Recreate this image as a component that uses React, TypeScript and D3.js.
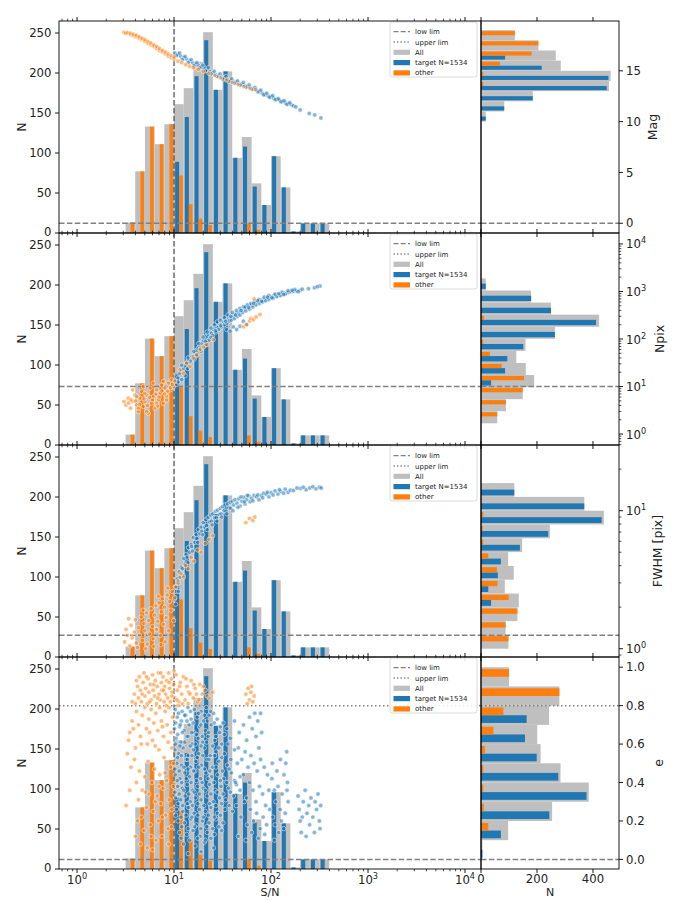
import React from 'react';
import * as d3 from 'd3';

// S/N histogram (0.1 dex bins, 10^0.5 .. 10^2.6)
const snEdges = d3.range(22).map((i) => 10 ** (0.5 + 0.1 * i));
const snTarget = [0, 0, 0, 0, 0, 89, 145, 196, 241, 179, 202, 94, 108, 58, 35, 96, 57, 2, 12, 12, 12];
const snOther = [13, 77, 133, 111, 136, 72, 36, 18, 10, 0, 0, 0, 12, 4, 0, 0, 0, 0, 0, 0, 0];

// side histograms
const magEdges = d3.range(10, 20);
const magTarget = [17, 83, 185, 449, 455, 217, 86, 0, 0];
const magOther = [0, 0, 0, 8, 8, 68, 181, 205, 121];

const npixEdges = d3.range(13).map((i) => 10 ** (0.226 + 0.254 * i));
const npixTarget = [0, 0, 0, 36, 86, 94, 151, 264, 411, 250, 179, 17];
const npixOther = [58, 89, 149, 154, 74, 32, 8, 0, 11, 0, 0, 0];

const fwhmEdges = d3.range(13).map((i) => 10 ** (0.1 * i));
const fwhmTarget = [0, 0, 0, 36, 26, 60, 71, 139, 240, 431, 369, 119];
const fwhmOther = [98, 88, 130, 99, 59, 57, 26, 8, 6, 8, 0, 0];

const eEdges = d3.range(11).map((i) => i / 10);
const eTarget = [5, 71, 244, 377, 276, 199, 157, 163, 0, 0];
const eOther = [0, 26, 10, 8, 8, 14, 44, 80, 280, 100];

// scatter points [S/N, value]
const magTargetPts = [[10.2,16.75],[11.0,16.6],[11.7,16.45],[12.6,16.3],[13.5,16.15],[14.5,15.95],[15.5,15.8],[16.6,15.65],[17.8,15.55],[19.1,15.4],[20.4,15.25],[21.9,15.05],[23.4,14.93],[25.1,14.8],[26.9,14.65],[28.8,14.5],[30.9,14.4],[33.1,14.3],[35.5,14.15],[38.0,14.03],[40.7,13.95],[43.7,13.85],[46.8,13.75],[50.1,13.65],[53.7,13.55],[57.5,13.45],[61.7,13.35],[66.1,13.2],[70.8,13.1],[75.9,12.95],[81.3,12.8],[87.1,12.65],[93.3,12.55],[100,12.45],[107,12.3],[115,12.2],[123,12.08],[132,11.95],[141,11.85],[151,11.75],[162,11.65],[200,11.15],[248,10.8],[282,10.66],[327,10.36],
  [10.6,16.5],[11.4,16.75],[12.2,16.1],[13.0,16.4],[14.0,15.8],[15.0,16.1],[16.0,15.5],[17.2,15.8],[18.5,15.3],[19.8,15.55],[21.2,15.0],[22.6,15.3],[24.2,14.7],[26.0,14.95],[27.8,14.45],[29.8,14.7],[32.0,14.2],[34.3,14.45],[36.8,13.95],[39.3,14.2],[42.2,13.8],[45.2,14.0],[48.4,13.6],[51.8,13.85],[55.5,13.4],[59.5,13.6],[63.8,13.2],[68.4,13.35],[73.3,12.95],[78.5,13.1],[84.1,12.65],[90.1,12.8],[96.5,12.4],[104,12.55],[111,12.15],[119,12.25],[127,11.95],[136,12.05],[146,11.7],[156,11.85],[170,11.55],[180,11.45]];
const magOtherPts = [[3.05,18.8],[3.16,18.7],[3.31,18.75],[3.55,18.55],[3.55,18.7],[3.80,18.45],[3.80,18.6],[4.07,18.35],[4.07,18.5],[4.37,18.2],[4.37,18.35],[4.68,18.05],[4.68,18.2],[5.01,17.9],[5.01,18.05],[5.37,17.7],[5.37,17.9],[5.75,17.55],[5.75,17.75],[6.17,17.4],[6.17,17.55],[6.61,17.2],[6.61,17.4],[7.08,17.0],[7.08,17.2],[7.59,16.85],[7.59,17.0],[8.13,16.65],[8.13,16.85],[8.71,16.45],[8.71,16.65],[9.33,16.3],[9.33,16.5],[10,16.15],[10,16.35],[11,15.95],[12,15.8],[13.2,15.6],[14.5,15.45],[15.8,15.3],[17.8,15.15],[20,14.95],[22.9,14.75],[26.3,14.55],[30.2,14.3],[34.7,14.1],[39.8,13.85],[45.7,13.65],[52.5,13.45],[60.3,13.3],[69.2,13.15]];

const npixTargetPts = [[10.2,13.8],[10.6,16],[11.0,15],[11.5,19.1],[12.0,22],[12.5,24],[13.0,27],[13.5,31.1],[14.0,36],[14.6,33],[15.2,42],[15.8,43.1],[16.5,52],[17.1,58],[17.8,64],[18.5,70.2],[19.3,80],[20.1,92],[20.9,100],[21.7,114],[22.6,125],[23.5,140],[24.4,132],[25.4,158],[26.5,170],[27.5,180],[28.6,176],[29.8,201],[31.0,215],[32.3,232],[33.6,225],[34.9,249],[36.3,270],[37.8,285],[39.3,278],[40.9,312],[42.6,330],[44.2,350],[46,345],[47.9,385],[50,410],[52,420],[54,440],[56.1,453],[58,480],[61,500],[63,520],[65.8,533],[69,570],[72,600],[77.1,627],[80,660],[85,680],[90.2,702],[95,740],[100,770],[106,800],[112,830],[118,850],[124,867],[132,900],[138,920],[145,940],[152,960],[160,990],[170,1003],[182,1030],[199,1054],[243,1143],[320,1301],
  [15,36],[17,45],[19,55],[21,75],[23,95],[25,118],[27,140],[29,160],[31,180],[33,200],[35,215],[37,240],[39,250],[42,270],[45,300],[48,320],[51,360],[55,390],[60,420],[65,470],[70,520],[76,560],[82,600],[88,640],[95,680],[105,720],[115,780],[125,820],[140,880],
  [12,28],[14,40],[16,55],[18,80],[20,110],[22,140],[24,170],[26,200],[28,230],[30,250],[33,280],[36,320],[40,360],[44,400],[48,440],[52,480],[57,520],[62,560],[68,620],[75,680],[85,760],[95,820],[110,880],[130,960],[150,1040],[175,1100],[210,1120],[280,1200],[300,1260],
  [34.9,158],[40.9,180],[47.9,185],[56.1,201],[44.2,158],[37.8,146],[51.9,237],[10.5,11],[11,12.5],[12,14],[13,17],
  [13.8,24],[16.2,38],[18.8,62],[21.2,88],[24,108],[26.8,150],[30.2,190],[34,238],[38.5,300],[43,320],[49,395],[54,470],[59,455],[66,560],[73,640],[80,620],[92,760],[102,740],[120,900],[135,860],[165,1060],[190,990]];
const npixOtherPts = [[3.05,4.82],[3.20,4.09],[3.38,5.67],[3.57,3.48],[3.75,4.82],[3.96,6.67],[4.12,4.09],[4.29,2.96],[4.46,5.67],[4.65,7.84],[4.83,3.78],[5.02,4.82],[5.22,6.67],[5.43,2.73],[5.66,9.23],[5.89,4.45],[6.12,6.15],[6.37,3.48],[6.62,8.51],[6.89,5.22],[7.18,7.23],[7.46,10.8],[7.76,4.45],[8.07,9.23],[8.39,6.15],[8.75,11.8],[9.10,8.51],[9.46,13.8],[9.84,10.0],[10.2,12.8],[3.75,8.51],[4.83,10.0],[6.12,11.8],[7.76,12.8],[4.12,6.15],[5.22,2.96],[6.62,4.45],[8.39,5.22],
  [3.4,4.5],[3.6,5.2],[4.0,5.0],[4.4,4.2],[4.9,5.5],[5.3,4.0],[5.6,5.9],[6.0,5.2],[6.5,6.9],[7.0,6.0],[7.5,8.0],[8.0,7.0],[8.6,8.0],[9.2,9.5],[9.6,11.0],[5.0,7.2],[4.3,3.5],[6.8,3.9],
  [11.5,22.5],[12.5,19.1],[13.5,31.1],[14.6,26.5],[15.8,39.7],[17.1,46.7],[18.5,59.6],[20.1,67.9],[21.7,76.1],[25.4,97],
  [52,180],[56,201],[60,240],[62,270],[66,257],[70,290],[77,327],[67,700]];

const fwhmTargetPts = [[10.1,2.3],[10.3,2.8],[10.6,2.6],[10.4,2.1],[10.8,3.2],[11.0,3.0],[11.3,3.6],[11.6,3.3],[11.1,2.6],[11.9,3.9],[12.2,3.8],[12.6,4.5],[13.0,4.1],[12.4,3.4],[13.3,4.8],[13.6,4.6],[14.1,5.4],[14.6,5.0],[13.9,4.2],[15.0,5.7],[15.2,5.5],[15.8,6.4],[16.4,5.9],[15.5,5.1],[16.9,6.7],[17.1,6.3],[17.8,7.3],[18.5,6.8],[17.5,5.9],[19.0,7.6],[19.3,7.1],[20.0,8.2],[20.8,7.6],[19.7,6.7],[21.3,8.6],[21.6,7.8],[22.4,8.9],[23.3,8.3],[22.0,7.3],[23.9,9.3],[24.2,8.4],[25.1,9.5],[26.2,8.9],[24.7,7.9],[26.8,9.9],[27.2,8.9],[28.2,10.1],[29.3,9.4],[27.7,8.4],[30.0,10.4],[30.5,9.5],[31.6,10.7],[32.8,10.0],[31.0,9.0],[33.5,11.0],[34.3,9.9],[35.5,11.2],[36.9,10.5],[35.0,9.5],[37.8,11.5],[38.4,10.4],[39.8,11.7],[41.3,11.0],[40.5,10.0],[42.5,12.0],
  [44.7,11.35],[46.5,12.2],[48.0,10.8],[50.1,11.7],[52.5,12.5],[54.0,11.2],[56.2,12.0],[59.0,12.8],[61.0,11.6],[63.1,12.3],[67.0,12.9],[70.8,12.6],[75.0,12.0],[79.4,12.9],[84.0,13.4],[89.1,13.2],[95.0,12.6],[100,13.5],[110,13.9],[118,13.2],[126,13.8],[140,14.3],[150,13.6],[158,14.1],[200,14.5],[230,14.2],[251,14.6],[290,14.4],[316,14.8],[330,14.6],
  [45.5,10.6],[49,12.6],[53,11.6],[57,12.9],[65,11.8],[73,13.0],[82,12.4],[92,13.6],[105,13.0],[122,14.2],[135,13.4],[170,14.0],[185,14.6],[215,14.8],[270,14.9]];
const fwhmOtherPts = [[3.1,1.12],[3.2,1.38],[3.3,1.25],[3.5,1.05],[3.6,1.48],[3.7,1.20],[3.9,1.32],[4.0,1.62],[4.1,1.10],[4.3,1.42],[4.4,1.25],[4.6,1.70],[4.7,1.15],[4.9,1.52],[5.0,1.35],[5.2,1.82],[5.3,1.08],[5.5,1.60],[5.6,1.28],[5.8,1.95],[6.0,1.45],[6.1,1.18],[6.3,1.75],[6.5,2.05],[6.6,1.38],[6.8,1.58],[7.0,2.15],[7.2,1.25],[7.4,1.85],[7.6,2.30],[7.8,1.50],[8.0,2.00],[8.3,1.68],[8.5,2.45],[8.8,1.35],[9.0,2.20],[9.3,1.90],[9.6,2.60],[9.9,1.60],[10.2,2.35],[4.2,1.02],[5.1,1.00],[6.2,1.04],[7.3,1.07],[8.1,1.12],[3.4,1.65],[4.8,1.90],[6.9,2.40],[8.6,2.75],[10.5,2.80],[11.0,3.10],[11.8,3.50],[12.5,3.30],[13.2,4.00],[14.0,3.80],[15.0,4.60],[16.0,4.30],[17.5,5.20],[19.0,5.00],[21,5.80],[23,6.20],[25,6.60],[55,8.2],[60,8.8],[65,8.5],[68,9.0]];

const eTargetPts = [[10.3,0.78],[12.1,0.77],[13.9,0.79],[16.2,0.78],[19.0,0.77],[21.5,0.79],[25.5,0.76],
  [10.8,0.74],[11.9,0.72],[13.2,0.75],[15.0,0.73],[17.3,0.74],[20.2,0.72],[23.0,0.75],[27.8,0.73],[32,0.71],
  [10.1,0.68],[11.4,0.69],[12.7,0.67],[14.3,0.70],[16.0,0.66],[18.4,0.69],[21.1,0.67],[24.2,0.70],[29.5,0.66],[35,0.68],
  [10.5,0.63],[11.8,0.61],[13.5,0.64],[15.4,0.60],[17.7,0.63],[19.8,0.61],[22.5,0.64],[26.3,0.62],[31,0.60],[38,0.63],
  [10.2,0.57],[11.2,0.55],[12.4,0.58],[14.0,0.54],[15.9,0.57],[18.0,0.55],[20.5,0.58],[23.6,0.54],[27.0,0.56],[33,0.55],[42,0.57],
  [10.7,0.50],[12.0,0.49],[13.3,0.52],[14.8,0.48],[16.8,0.51],[19.2,0.49],[21.8,0.52],[25.0,0.48],[29.0,0.51],[35.5,0.49],[45,0.50],
  [10.3,0.44],[11.5,0.42],[12.9,0.45],[14.5,0.43],[16.4,0.46],[18.8,0.42],[21.3,0.45],[24.5,0.43],[28.2,0.44],[32.5,0.42],[39,0.45],[48,0.43],
  [10.9,0.38],[12.2,0.37],[13.7,0.39],[15.6,0.36],[17.5,0.38],[20.0,0.37],[23.2,0.39],[26.5,0.36],[30.5,0.38],[36.5,0.37],[44,0.39],
  [10.4,0.32],[11.7,0.31],[13.0,0.33],[14.7,0.30],[16.6,0.32],[19.0,0.31],[22.0,0.33],[25.3,0.30],[29.5,0.32],[34,0.31],[41,0.33],
  [10.6,0.26],[12.3,0.25],[14.1,0.27],[16.1,0.24],[18.3,0.26],[21.0,0.25],[24.0,0.27],[28.0,0.24],[33.5,0.26],[40,0.25],
  [11.0,0.20],[12.8,0.19],[14.9,0.21],[17.0,0.18],[19.6,0.20],[23.0,0.19],[27.0,0.21],[32,0.19],
  [11.4,0.14],[13.5,0.13],[15.7,0.15],[18.6,0.12],[22.0,0.14],[26.0,0.13],[31,0.15],
  [12.5,0.08],[16.5,0.07],[20.5,0.09],[25.5,0.06],[14,0.03],[19,0.04],
  [11.1,0.76],[12.9,0.75],[14.8,0.77],[17.9,0.76],[20.6,0.75],[23.8,0.77],
  [10.4,0.71],[11.6,0.70],[13.6,0.72],[15.7,0.71],[18.9,0.70],[22.0,0.72],[26.0,0.71],[30,0.69],
  [10.9,0.65],[12.2,0.66],[13.9,0.64],[15.2,0.66],[17.0,0.65],[19.6,0.64],[22.8,0.66],[27.0,0.64],[33,0.65],
  [10.3,0.60],[11.5,0.59],[12.9,0.61],[14.7,0.59],[16.6,0.60],[19.0,0.59],[21.7,0.61],[25.0,0.59],[29,0.58],[36,0.60],
  [10.9,0.53],[11.9,0.54],[13.7,0.52],[15.3,0.54],[17.4,0.53],[19.8,0.54],[22.9,0.52],[26.2,0.54],[31,0.53],[38.5,0.52],
  [10.2,0.47],[11.3,0.46],[12.6,0.48],[14.0,0.47],[15.9,0.46],[18.0,0.48],[20.6,0.47],[23.4,0.46],[27.0,0.48],[31.5,0.46],[37,0.47],
  [10.8,0.41],[12.0,0.40],[13.4,0.42],[15.0,0.40],[17.0,0.41],[19.5,0.40],[22.4,0.42],[25.8,0.40],[30,0.41],[35,0.40],[42,0.41],
  [10.2,0.35],[11.3,0.34],[12.6,0.36],[14.2,0.34],[16.1,0.35],[18.3,0.34],[21.0,0.36],[24.0,0.34],[27.8,0.35],[32,0.34],[38,0.35],
  [11.0,0.29],[12.3,0.28],[13.8,0.29],[15.5,0.28],[17.6,0.29],[20.3,0.28],[23.3,0.29],[27,0.28],[31,0.29],[37,0.28],
  [10.4,0.23],[11.8,0.22],[13.3,0.23],[15.3,0.22],[17.6,0.23],[20.0,0.22],[22.6,0.23],[26,0.22],[30,0.23],
  [12.0,0.17],[14.0,0.16],[16.3,0.17],[18.9,0.16],[21.8,0.17],[25,0.16],[29,0.17],
  [11.8,0.11],[14.5,0.10],[17.5,0.11],[21,0.10],[24,0.11],
  [42,0.72],[47,0.66],[52,0.70],[56,0.62],[60,0.74],[64,0.68],[70,0.64],[75,0.58],[80,0.66],[46,0.58],[50,0.52],[54,0.56],[58,0.48],[62,0.54],[67,0.50],[72,0.46],[78,0.52],[85,0.48],[92,0.44],[43,0.40],[48,0.36],[52,0.44],[56,0.32],[60,0.40],[65,0.36],[70,0.30],[76,0.38],[82,0.34],[88,0.28],[95,0.36],[44,0.28],[49,0.22],[53,0.30],[57,0.18],[61,0.26],[66,0.20],[71,0.24],[77,0.16],[83,0.22],[90,0.18],[97,0.26],[46,0.12],[55,0.10],[63,0.14],[74,0.11],[86,0.13],[68,0.76],[73,0.72],[78,0.76],
  [102,0.42],[108,0.36],[112,0.30],[118,0.38],[124,0.26],[130,0.34],[136,0.44],[142,0.50],[148,0.40],[150,0.30],[104,0.22],[110,0.18],[120,0.14],[128,0.20],[140,0.24],[146,0.36],[103,0.50],[115,0.46],[125,0.52],[145,0.56],[135,0.16],[108,0.10],
  [190,0.33],[195,0.26],[200,0.20],[205,0.14],[215,0.30],[225,0.36],[235,0.24],[245,0.28],[250,0.18],[258,0.32],[270,0.22],[285,0.30],[295,0.26],[305,0.34],[315,0.20],[325,0.28],[320,0.16],[280,0.14],[230,0.12],[210,0.22]];
const eOtherPts = [[3.7,0.82],[3.9,0.86],[4.0,0.81],[4.2,0.90],[4.3,0.84],[4.4,0.95],[4.5,0.88],[4.6,0.82],[4.8,0.92],[4.9,0.97],[5.0,0.85],[5.1,0.89],[5.3,0.81],[5.4,0.94],[5.5,0.87],[5.7,0.91],[5.8,0.83],[6.0,0.96],[6.1,0.88],[6.3,0.85],[6.4,0.93],[6.6,0.81],[6.7,0.90],[6.9,0.97],[7.0,0.86],[7.2,0.83],[7.4,0.92],[7.5,0.88],[7.7,0.95],[7.9,0.82],[8.0,0.90],[8.2,0.86],[8.4,0.93],[8.6,0.84],[8.8,0.97],[9.0,0.89],[9.2,0.82],[9.4,0.94],[9.6,0.87],[9.9,0.91],[10.2,0.84],[10.5,0.96],[10.8,0.88],[11.2,0.82],[11.6,0.92],[12.0,0.86],[12.5,0.95],[13.0,0.83],[13.6,0.90],[14.2,0.87],[15.0,0.93],[15.8,0.84],[16.5,0.89],[17.5,0.82],[18.5,0.91],[19.5,0.86],[21,0.88],[23,0.84],[25,0.87],[14,0.81],[11,0.80],
  [4.1,0.93],[4.7,0.86],[5.2,0.95],[5.6,0.82],[6.2,0.91],[6.8,0.84],[7.3,0.97],[7.8,0.88],[8.3,0.80],[8.9,0.92],[9.5,0.85],[10.0,0.98],[10.7,0.83],[11.4,0.90],[12.2,0.81],[13.3,0.94],[14.6,0.86],[16.0,0.91],[17.0,0.86],[18,0.83],[20,0.90],[22,0.85],
  [55,0.86],[58,0.89],[60,0.83],[62,0.87],[65,0.82],[67,0.85],[63,0.90],[57,0.81],
  [3.4,0.62],[3.5,0.66],[3.7,0.72],[4.1,0.77],[4.3,0.70],[4.5,0.64],[4.7,0.75],[5.0,0.79],[5.2,0.68],[5.5,0.73],[5.8,0.78],[6.0,0.62],[6.2,0.71],[6.5,0.76],[6.8,0.67],[7.1,0.79],[7.4,0.72],[7.8,0.64],[8.1,0.77],[8.5,0.70],[8.9,0.79],[9.3,0.66],[9.7,0.74],[4.0,0.58],[5.3,0.60],[7.0,0.57],
  [3.8,0.68],[4.6,0.60],[5.6,0.66],[6.4,0.59],[7.6,0.69],[8.7,0.61],[9.5,0.58],
  [3.2,0.28],[3.3,0.55],[3.6,0.48],[3.9,0.52],[4.1,0.40],[4.3,0.31],[4.4,0.46],[4.6,0.22],[4.7,0.36],[4.9,0.15],[5.0,0.43],[5.2,0.27],[5.4,0.51],[5.5,0.34],[5.7,0.18],[5.9,0.40],[6.1,0.25],[6.3,0.47],[6.5,0.10],[6.7,0.33],[6.9,0.20],[7.1,0.44],[7.3,0.29],[7.5,0.12],[7.7,0.37],[7.9,0.53],[8.2,0.23],[8.4,0.41],[8.7,0.16],[8.9,0.31],[9.2,0.48],[9.5,0.26],[9.8,0.38],[4.0,0.12],[4.5,0.08],[6.0,0.05],[5.3,0.06],
  [3.5,0.36],[4.2,0.20],[5.1,0.35],[5.8,0.12],[6.4,0.30],[7.0,0.38],[7.6,0.22],[8.1,0.45],[8.8,0.08],[9.4,0.17],[9.9,0.50]];

const BLUE = '#1f77b4';
const ORANGE = '#ff7f0e';
const GRAY = '#bfbfbf';
const LIM = '#808080';
const FONT = 'DejaVu Sans, sans-serif';

const X0 = 59, X1 = 481, X2 = 619;
const TOP0 = 21, PH = 212;
const NMAX = 265;

const xSN = d3.scaleLog().domain([10 ** -0.186, 10 ** 4.165]).range([X0, X1]);
const xN = d3.scaleLinear().domain([0, 493]).range([X1, X2]);

const panels = [
  { label: 'Mag', log: false, domain: [-0.96, 19.9], ticks: [0, 5, 10, 15], fmt: (v) => String(v),
    edges: magEdges, target: magTarget, other: magOther, tPts: magTargetPts, oPts: magOtherPts, low: 0, up: null, labelX: 652 },
  { label: 'Npix', log: true, domain: [10 ** -0.23, 10 ** 4.23], ticks: [1, 10, 100, 1000, 10000], fmt: null,
    edges: npixEdges, target: npixTarget, other: npixOther, tPts: npixTargetPts, oPts: npixOtherPts, low: 10, up: null, labelX: 659 },
  { label: 'FWHM [pix]', log: true, domain: [10 ** -0.06, 10 ** 1.476], ticks: [1, 10], fmt: null,
    edges: fwhmEdges, target: fwhmTarget, other: fwhmOther, tPts: fwhmTargetPts, oPts: fwhmOtherPts, low: 1.25, up: null, labelX: 657 },
  { label: 'e', log: false, domain: [-0.05, 1.053], ticks: [0, 0.2, 0.4, 0.6, 0.8, 1.0], fmt: d3.format('.1f'),
    edges: eEdges, target: eTarget, other: eOther, tPts: eTargetPts, oPts: eOtherPts, low: 0, up: 0.8, labelX: 658 },
];

function logMinor(lo, hi) {
  const out = [];
  for (let d = Math.floor(Math.log10(lo)) - 1; d <= Math.ceil(Math.log10(hi)); d++) {
    for (let k = 2; k <= 9; k++) {
      const v = k * 10 ** d;
      if (v >= lo && v <= hi) out.push(v);
    }
  }
  return out;
}

function Pow10({ x, y, v, anchor = 'middle', size = 11.7 }) {
  const e = Math.round(Math.log10(v));
  return (
    <text x={x} y={y} textAnchor={anchor} fontSize={size} fill="#222">
      10<tspan dy={-5} fontSize={size * 0.7}>{e}</tspan>
    </text>
  );
}

function Legend({ top }) {
  const lx = 390, ly = top + 1;
  const rows = ['low lim', 'upper lim', 'All', 'target N=1534', 'other'];
  return (
    <g fontSize={7} fill="#222">
      <rect x={lx} y={ly} width={87} height={55} rx={2} fill="#fff" fillOpacity={0.85} stroke="#d0d0d0" strokeWidth={0.8} />
      {rows.map((r, i) => {
        const cy = ly + 9.7 + i * 10.3;
        let handle;
        if (i === 0) handle = <line x1={393.5} x2={410} y1={cy} y2={cy} stroke={LIM} strokeWidth={1.3} strokeDasharray="5,2.2" />;
        else if (i === 1) handle = <line x1={393.5} x2={410} y1={cy} y2={cy} stroke={LIM} strokeWidth={1.3} strokeDasharray="1.3,2.2" />;
        else handle = <rect x={393.5} y={cy - 2.6} width={16.5} height={5.2} fill={[GRAY, BLUE, ORANGE][i - 2]} />;
        return (
          <g key={r}>
            {handle}
            <text x={415} y={cy + 2.5}>{r}</text>
          </g>
        );
      })}
    </g>
  );
}

function PanelView({ p, idx }) {
  const top = TOP0 + idx * PH;
  const bot = top + PH;
  const last = idx === 3;
  const yN = d3.scaleLinear().domain([0, NMAX]).range([bot, top]);
  const yP = (p.log ? d3.scaleLog() : d3.scaleLinear()).domain(p.domain).range([bot, top]);
  const clipM = `clipM${idx}`;
  const clipS = `clipS${idx}`;

  // vertical S/N bars
  const vBars = [];
  snEdges.slice(0, -1).forEach((a, i) => {
    const b = snEdges[i + 1];
    const w = b - a;
    const t = snTarget[i], o = snOther[i];
    const all = t + o;
    if (all > 0) vBars.push(<rect key={`g${i}`} x={xSN(a)} width={xSN(b) - xSN(a)} y={yN(all)} height={yN(0) - yN(all)} fill={GRAY} />);
    if (t > 0) vBars.push(<rect key={`t${i}`} x={xSN(a + 0.1 * w)} width={xSN(a + 0.5 * w) - xSN(a + 0.1 * w)} y={yN(t)} height={yN(0) - yN(t)} fill={BLUE} />);
    if (o > 0) vBars.push(<rect key={`o${i}`} x={xSN(a + 0.5 * w)} width={xSN(a + 0.9 * w) - xSN(a + 0.5 * w)} y={yN(o)} height={yN(0) - yN(o)} fill={ORANGE} />);
  });

  // horizontal side bars
  const hBars = [];
  p.edges.slice(0, -1).forEach((a, i) => {
    const b = p.edges[i + 1];
    const w = b - a;
    const t = p.target[i], o = p.other[i];
    const all = t + o;
    if (all > 0) hBars.push(<rect key={`g${i}`} x={xN(0)} width={xN(all) - xN(0)} y={yP(b)} height={yP(a) - yP(b)} fill={GRAY} />);
    if (t > 0) hBars.push(<rect key={`t${i}`} x={xN(0)} width={xN(t) - xN(0)} y={yP(a + 0.5 * w)} height={yP(a + 0.1 * w) - yP(a + 0.5 * w)} fill={BLUE} />);
    if (o > 0) hBars.push(<rect key={`o${i}`} x={xN(0)} width={xN(o) - xN(0)} y={yP(a + 0.9 * w)} height={yP(a + 0.5 * w) - yP(a + 0.9 * w)} fill={ORANGE} />);
  });

  const majX = [1, 10, 100, 1000, 10000];
  const minX = logMinor(xSN.domain()[0], xSN.domain()[1]);
  const minP = p.log ? logMinor(p.domain[0], p.domain[1]) : [];
  const nTicks = [0, 50, 100, 150, 200, 250];
  const sideTicks = [0, 200, 400];

  const dot = (pt, color, k) => (
    <circle key={k} cx={xSN(pt[0])} cy={yP(pt[1])} r={2.2} fill={color} fillOpacity={0.55} stroke="#fff" strokeWidth={0.5} />
  );

  return (
    <g>
      <defs>
        <clipPath id={clipM}><rect x={X0} y={top} width={X1 - X0} height={PH} /></clipPath>
        <clipPath id={clipS}><rect x={X1} y={top} width={X2 - X1} height={PH} /></clipPath>
      </defs>

      {/* main panel */}
      <g clipPath={`url(#${clipM})`}>
        {vBars}
        <line x1={xSN(10)} x2={xSN(10)} y1={top} y2={bot} stroke="#555" strokeWidth={1.3} strokeDasharray="5.5,2.4" />
        <line x1={X0} x2={X1} y1={yP(p.low)} y2={yP(p.low)} stroke={LIM} strokeWidth={1.5} strokeDasharray="5.5,2.4" />
        {p.up != null && <line x1={X0} x2={X1} y1={yP(p.up)} y2={yP(p.up)} stroke={LIM} strokeWidth={1.5} strokeDasharray="1.5,2.5" />}
        {p.tPts.map((pt, i) => dot(pt, BLUE, `t${i}`))}
        {p.oPts.map((pt, i) => dot(pt, ORANGE, `o${i}`))}
      </g>

      {/* side panel */}
      <g clipPath={`url(#${clipS})`}>
        {hBars}
        <line x1={X1} x2={X2} y1={yP(p.low)} y2={yP(p.low)} stroke={LIM} strokeWidth={1.5} strokeDasharray="5.5,2.4" />
        {p.up != null && <line x1={X1} x2={X2} y1={yP(p.up)} y2={yP(p.up)} stroke={LIM} strokeWidth={1.5} strokeDasharray="1.5,2.5" />}
      </g>

      <Legend top={top} />

      {/* frames */}
      <rect x={X0} y={top} width={X1 - X0} height={PH} fill="none" stroke="#000" strokeWidth={0.9} />
      <rect x={X1} y={top} width={X2 - X1} height={PH} fill="none" stroke="#000" strokeWidth={0.9} />

      {/* ticks */}
      <g stroke="#000" strokeWidth={0.9}>
        {majX.map((v) => (
          <g key={v}>
            <line x1={xSN(v)} x2={xSN(v)} y1={bot} y2={bot + 4} />
            <line x1={xSN(v)} x2={xSN(v)} y1={top} y2={top - 4} />
          </g>
        ))}
        {minX.map((v) => (
          <g key={v}>
            <line x1={xSN(v)} x2={xSN(v)} y1={bot} y2={bot + 2.3} strokeWidth={0.7} />
            <line x1={xSN(v)} x2={xSN(v)} y1={top} y2={top - 2.3} strokeWidth={0.7} />
          </g>
        ))}
        {sideTicks.map((v) => (
          <g key={v}>
            <line x1={xN(v)} x2={xN(v)} y1={bot} y2={bot + 4} />
            <line x1={xN(v)} x2={xN(v)} y1={top} y2={top - 4} />
          </g>
        ))}
        {nTicks.map((v) => <line key={v} x1={X0} x2={X0 - 4} y1={yN(v)} y2={yN(v)} />)}
        {p.ticks.map((v) => <line key={v} x1={X2} x2={X2 + 4} y1={yP(v)} y2={yP(v)} />)}
        {minP.map((v) => <line key={v} x1={X2} x2={X2 + 2.3} y1={yP(v)} y2={yP(v)} strokeWidth={0.7} />)}
      </g>

      {/* left N labels */}
      <g fontSize={11.7} fill="#222" textAnchor="end">
        {nTicks.map((v) => (
          <text key={v} x={X0 - 7.5} y={yN(v) + (v === 0 ? 3.2 : 4.2)}>{v}</text>
        ))}
      </g>
      <text transform={`translate(21,${(top + bot) / 2}) rotate(-90)`} textAnchor="middle" fontSize={12.5} fill="#222" dominantBaseline="central">N</text>

      {/* right param labels */}
      {p.ticks.map((v) =>
        p.log ? (
          <Pow10 key={v} x={X2 + 7} y={yP(v) + 4.5} v={v} anchor="start" />
        ) : (
          <text key={v} x={X2 + 7} y={yP(v) + 4.2} fontSize={11.7} fill="#222">{p.fmt(v)}</text>
        )
      )}
      <text transform={`translate(${p.labelX},${(top + bot) / 2}) rotate(-90)`} textAnchor="middle" fontSize={12.5} fill="#222" dominantBaseline="central">{p.label}</text>

      {last && (
        <g>
          {majX.map((v) => <Pow10 key={v} x={xSN(v)} y={884} v={v} />)}
          {sideTicks.map((v) => (
            <text key={v} x={xN(v)} y={883} textAnchor="middle" fontSize={11.7} fill="#222">{v}</text>
          ))}
          <text x={(X0 + X1) / 2} y={896} textAnchor="middle" fontSize={11} fill="#222">S/N</text>
          <text x={(X1 + X2) / 2} y={896} textAnchor="middle" fontSize={11} fill="#222">N</text>
        </g>
      )}
    </g>
  );
}

export default function App() {
  return (
    <svg width={674} height={900} style={{ position: 'absolute', left: 0, top: 0, display: 'block' }} fontFamily={FONT}>
      <rect width={674} height={900} fill="#fff" />
      {panels.map((p, i) => <PanelView key={p.label} p={p} idx={i} />)}
    </svg>
  );
}
